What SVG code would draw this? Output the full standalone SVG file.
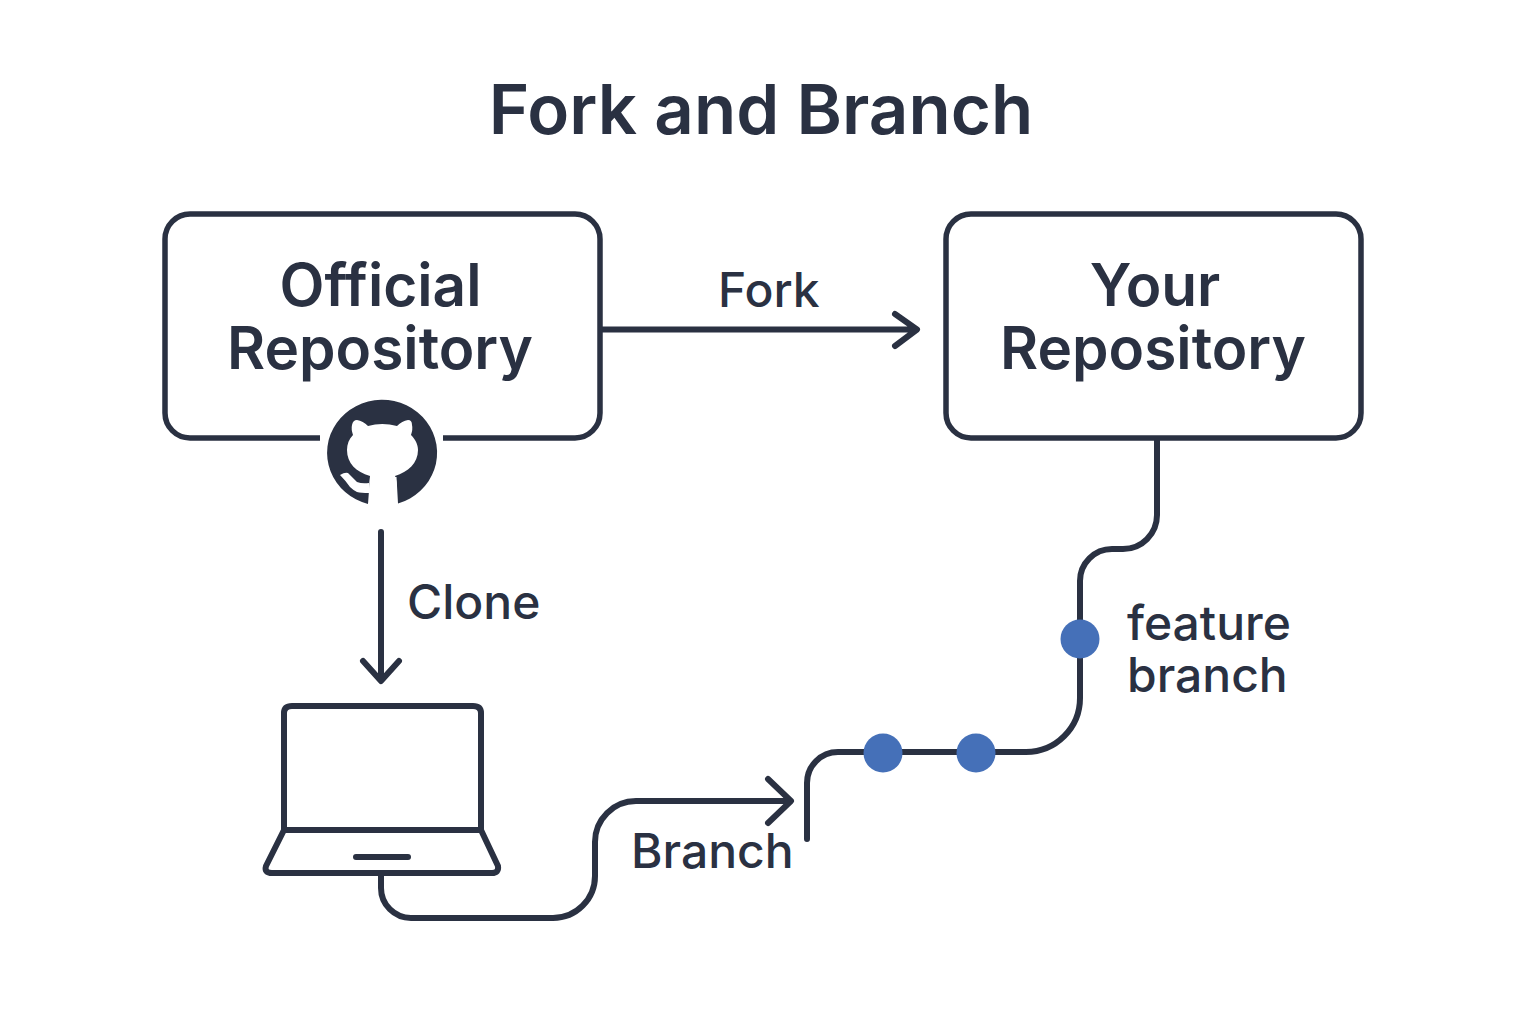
<svg xmlns="http://www.w3.org/2000/svg" width="1536" height="1024" viewBox="0 0 1536 1024">
<style>
text{font-family:Inter,"Noto Sans","Liberation Sans",sans-serif;fill:#2a3142;font-weight:500}
.t{font-size:58.500px;text-anchor:middle;font-weight:600}
.l{font-size:48px}
.c{fill:none;stroke:#2a3142;stroke-width:6;stroke-linecap:round;stroke-linejoin:round}
.b{fill:#fff;stroke:#2a3142;stroke-width:5.5}
.d{fill:#4570b8}
</style>
<rect width="1536" height="1024" fill="#fff"/>
<text id="title" x="761" y="134" text-anchor="middle" style="font-size:69px;font-weight:600">Fork and Branch</text>
<g id="connectors">
<path class="c" d="M601 329.500H916M895 314L917 329.500L895 346"/>
<path class="c" d="M381 532V680M363 661L381 681L399 661"/>
<path class="c" d="M1157 438V515A34 34 0 0 1 1123 549H1112A32 32 0 0 0 1080 581V698A54 54 0 0 1 1026 752H838A31 31 0 0 0 807 783V839"/>
<path class="c" d="M381 874V888A30 30 0 0 0 411 918H553A42 42 0 0 0 595 876V842A41 41 0 0 1 636 801H790M768 779L791 801L768 823"/>
</g>
<g id="official"><path class="b" d="M320 438H190A25 25 0 0 1 165 413V239A25 25 0 0 1 190 214H575A25 25 0 0 1 600 239V413A25 25 0 0 1 575 438H443"/>
<text class="t" x="380.500" y="306">Official</text><text class="t" x="380" y="369">Repository</text>
<path fill="#2a3142" d="M368 504A55 53 0 1 1 398 503.500L396.500 477H370Z"/>
<path fill="#fff" d="M370 476C356 472 347 463 347 450C347 444 349 439 353 435Q351 429 352 425Q353 420 357 420Q363 421 368 426Q382 422 397 426Q402 421 408 420Q412 420 412 425Q413 429 411 435C415 439 418 444 418 450C418 463 408 472 395 476Q397 480 397 490H369Z"/>
<path fill="#fff" d="M340 475Q345 472 348 473Q353 478 357 482Q362 484 369 483V493Q361 493 357 492Q353 490 350 487Q345 480 340 475Z"/>
</g>
<g id="yours"><rect class="b" x="946" y="214" width="415" height="224" rx="25"/>
<text class="t" x="1155" y="306">Your</text><text class="t" x="1153" y="369">Repository</text></g>
<g id="laptop" class="c"><path d="M284 830V713Q284 706 292 706H473Q481 706 481 713V830"/><path d="M284 830H481L498 866Q499 873 492 873H272Q264 873 266 866Z"/><path d="M356 857H408"/></g>
<g id="dots"><circle class="d" cx="1080" cy="639" r="19.500"/><circle class="d" cx="883" cy="753" r="19.500"/><circle class="d" cx="976" cy="753" r="19.500"/></g>
<text class="l" x="718" y="307">Fork</text>
<text class="l" x="407" y="619">Clone</text>
<text class="l" x="631" y="868">Branch</text>
<text class="l" x="1127" y="640">feature</text>
<text class="l" x="1127" y="692">branch</text>
</svg>
